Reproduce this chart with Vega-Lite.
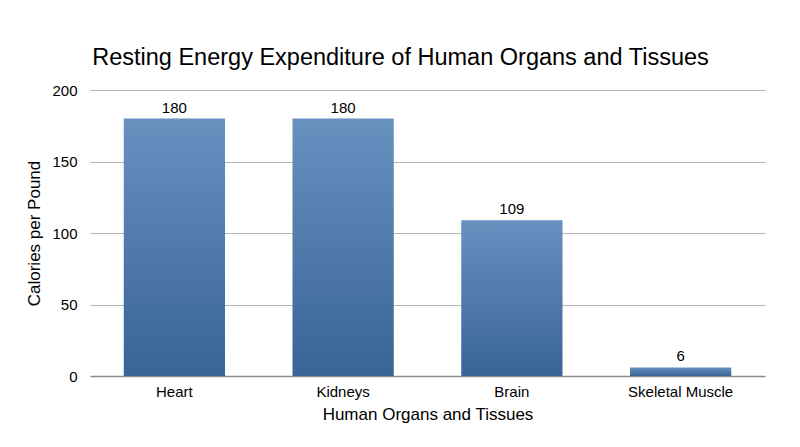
{
  "$schema": "https://vega.github.io/schema/vega-lite/v6.json",
  "width": 675,
  "height": 286,
  "autosize": {"type": "none"},
  "padding": {"left": 90, "top": 90, "right": 35, "bottom": 71},
  "background": "white",
  "title": {
    "text": "Resting Energy Expenditure of Human Organs and Tissues",
    "font": "Liberation Sans",
    "fontSize": 23.5,
    "fontWeight": "normal",
    "color": "#000000",
    "anchor": "middle",
    "dx": -27,
    "offset": 14
  },
  "data": {
    "values": [
      {"organ": "Heart", "calories": 180},
      {"organ": "Kidneys", "calories": 180},
      {"organ": "Brain", "calories": 109},
      {"organ": "Skeletal Muscle", "calories": 6}
    ]
  },
  "config": {
    "view": {"stroke": null},
    "axis": {
      "labelFont": "Liberation Sans",
      "titleFont": "Liberation Sans",
      "labelColor": "#000000",
      "titleColor": "#000000",
      "titleFontWeight": "normal"
    }
  },
  "encoding": {
    "x": {
      "field": "organ",
      "type": "nominal",
      "sort": null,
      "scale": {"paddingInner": 0.4, "paddingOuter": 0.2},
      "axis": {
        "title": "Human Organs and Tissues",
        "titleFontSize": 17,
        "titlePadding": 7,
        "labelFontSize": 15,
        "labelAngle": 0,
        "labelPadding": 8,
        "ticks": false,
        "domainColor": "#8c8c8c",
        "domainWidth": 1.5
      }
    },
    "y": {
      "field": "calories",
      "type": "quantitative",
      "scale": {"domain": [0, 200]},
      "axis": {
        "title": "Calories per Pound",
        "titleFontSize": 17,
        "titlePadding": 8,
        "labelFontSize": 15,
        "labelPadding": 13,
        "values": [0, 50, 100, 150, 200],
        "ticks": false,
        "domain": false,
        "gridColor": "#b5b5b5",
        "gridWidth": 1
      }
    }
  },
  "layer": [
    {
      "mark": {
        "type": "bar",
        "color": {
          "gradient": "linear",
          "x1": 0, "y1": 0, "x2": 0, "y2": 1,
          "stops": [
            {"offset": 0, "color": "#6891c0"},
            {"offset": 1, "color": "#3a6396"}
          ]
        }
      }
    },
    {
      "mark": {
        "type": "text",
        "baseline": "bottom",
        "dy": -3,
        "font": "Liberation Sans",
        "fontSize": 15,
        "color": "#000000"
      },
      "encoding": {"text": {"field": "calories", "type": "quantitative"}}
    }
  ]
}
